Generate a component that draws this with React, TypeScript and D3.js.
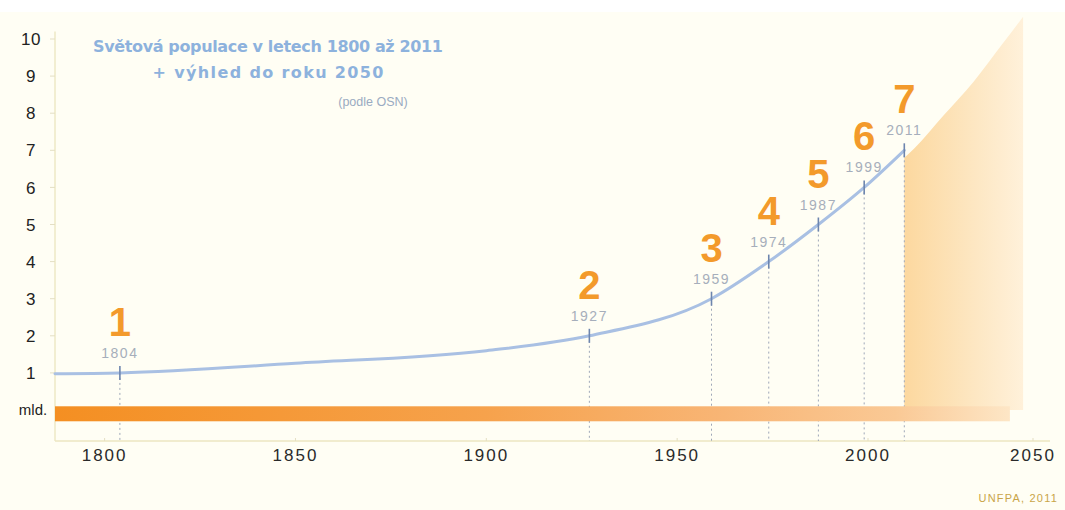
import { useMemo } from "react";
import * as d3 from "d3";

const width = 1065;
const height = 510;
const margin = { top: 12, left: 55, right: 15, axis: 441 };

// world population (billions)
const populationYears = [1787, 1804, 1850, 1900, 1927, 1959, 1974, 1987, 1999, 2011];
const populationValues = [0.98, 1, 1.26, 1.6, 2, 3, 4, 5, 6, 7];

// each new billion
const milestoneYears = [1804, 1927, 1959, 1974, 1987, 1999, 2011];
const milestoneValues = [1, 2, 3, 4, 5, 6, 7];

// outlook to 2050 (upper edge of shaded band)
const projectionYears = [2011, 2014, 2023, 2032, 2041, 2047];
const projectionHigh = [6.8, 7.05, 7.95, 8.85, 9.9, 10.6];

const xTicks = [1800, 1850, 1900, 1950, 2000, 2050];
const yTicks = [1, 2, 3, 4, 5, 6, 7, 8, 9, 10];

const orange = "#f39a2b";
const sans = "'Liberation Sans', Arial, sans-serif";

const App = () => {
  const { xScale, yScale, linePath, shadePath } = useMemo(() => {
    const xScale = d3
      .scaleLinear()
      .domain([1787, 2000, 2050])
      .range([margin.left, 868, 1033]);
    const yScale = d3.scaleLinear().domain([0, 10]).range([410, 39]);

    const pts = populationYears.map((yr, i) => [yr, populationValues[i]] as [number, number]);
    const linePath = d3
      .line<[number, number]>()
      .x((d) => xScale(d[0]))
      .y((d) => yScale(d[1]))
      .curve(d3.curveMonotoneX)(pts);

    const proj = projectionYears.map((yr, i) => [yr, projectionHigh[i]] as [number, number]);
    const shadePath = d3
      .area<[number, number]>()
      .x((d) => xScale(d[0]))
      .y0(yScale(0))
      .y1((d) => yScale(d[1]))
      .curve(d3.curveMonotoneX)(proj);

    return { xScale, yScale, linePath, shadePath };
  }, []);

  const barStart = xScale(1787);
  const barEnd = xScale(2043);
  const shadeStart = xScale(2011);
  const shadeEnd = xScale(2047);

  return (
    <svg
      width={width}
      height={height}
      style={{ position: "absolute", left: 0, top: 0, background: "#fffef4" }}
    >
      <defs>
        <linearGradient id="barGrad" gradientUnits="userSpaceOnUse" x1={barStart} x2={barEnd} y1={0} y2={0}>
          <stop offset="0" stopColor="#f48f22" />
          <stop offset="0.45" stopColor="#f6a24c" />
          <stop offset="0.7" stopColor="#f8b575" />
          <stop offset="0.88" stopColor="#fac995" />
          <stop offset="1" stopColor="#fde6c6" />
        </linearGradient>
        <linearGradient id="shadeGrad" gradientUnits="userSpaceOnUse" x1={shadeStart} x2={shadeEnd} y1={0} y2={0}>
          <stop offset="0" stopColor="#fcd89f" />
          <stop offset="0.6" stopColor="#fde7c3" />
          <stop offset="1" stopColor="#fff1da" />
        </linearGradient>
      </defs>

      <rect x={0} y={0} width={width} height={margin.top} fill="#ffffff" />

      {/* projection band */}
      <path d={shadePath ?? ""} fill="url(#shadeGrad)" />

      {/* axes */}
      <line x1={margin.left} x2={margin.left} y1={yScale(10.2)} y2={margin.axis} stroke="#eee9c6" strokeWidth={1.5} />
      <line x1={margin.left} x2={width - margin.right} y1={margin.axis} y2={margin.axis} stroke="#ece6c2" strokeWidth={1.5} />

      {yTicks.map((t) => (
        <g key={t}>
          <line x1={margin.left - 5} x2={margin.left} y1={yScale(t)} y2={yScale(t)} stroke="#e4dfc4" />
          <text
            x={31}
            y={yScale(t)}
            dy="0.36em"
            textAnchor="middle"
            fontFamily={sans}
            fontSize={17}
            letterSpacing={0.5}
            fill="#222"
          >
            {t}
          </text>
        </g>
      ))}
      <text x={33} y={yScale(0)} dy="0.36em" textAnchor="middle" fontFamily={sans} fontSize={15} fill="#222">
        mld.
      </text>

      {xTicks.map((t) => (
        <g key={t}>
          <line x1={xScale(t)} x2={xScale(t)} y1={margin.axis - 3} y2={margin.axis} stroke="#e4dfc4" />
          <text
            x={xScale(t)}
            y={margin.axis + 20}
            textAnchor="middle"
            fontFamily={sans}
            fontSize={17}
            letterSpacing={2}
            fill="#2a2a2a"
          >
            {t}
          </text>
        </g>
      ))}

      {/* milestone drop lines */}
      {milestoneYears.map((yr, i) => (
        <line
          key={yr}
          x1={xScale(yr)}
          x2={xScale(yr)}
          y1={yScale(milestoneValues[i])}
          y2={margin.axis}
          stroke="#9ea7b8"
          strokeWidth={1}
          strokeDasharray="2,3"
        />
      ))}

      {/* billions bar */}
      <rect x={barStart} y={yScale(0.1)} width={barEnd - barStart} height={15} fill="url(#barGrad)" />

      {/* population curve */}
      <path d={linePath ?? ""} fill="none" stroke="#a9c0e3" strokeWidth={3} strokeLinecap="round" />

      {milestoneYears.map((yr, i) => {
        const x = xScale(yr);
        const y = yScale(milestoneValues[i]);
        return (
          <g key={yr}>
            <line x1={x} x2={x} y1={y - 7} y2={y + 7} stroke="#6d85ae" strokeWidth={1.6} />
            <text
              x={x}
              y={y - 15}
              textAnchor="middle"
              fontFamily={sans}
              fontSize={14}
              letterSpacing={1.5}
              fill="#a6aebb"
            >
              {yr}
            </text>
            <text
              x={x}
              y={y - 37}
              textAnchor="middle"
              fontFamily={sans}
              fontWeight="bold"
              fontSize={40}
              fill={orange}
            >
              {milestoneValues[i]}
            </text>
          </g>
        );
      })}

      {/* title */}
      <text
        x={268}
        y={52}
        textAnchor="middle"
        fontFamily="'DejaVu Sans', Verdana, sans-serif"
        fontWeight="bold"
        fontSize={16}
        textLength={350}
        lengthAdjust="spacing"
        fill="#8db2dd"
      >
        Světová populace v letech 1800 až 2011
      </text>
      <text
        x={268}
        y={78}
        textAnchor="middle"
        fontFamily="'DejaVu Sans', Verdana, sans-serif"
        fontWeight="bold"
        fontSize={16}
        textLength={231}
        lengthAdjust="spacing"
        fill="#8db2dd"
      >
        + výhled do roku 2050
      </text>
      <text x={373} y={106} textAnchor="middle" fontFamily={sans} fontSize={12.5} fill="#9aabc2">
        (podle OSN)
      </text>

      <text
        x={1058}
        y={502}
        textAnchor="end"
        fontFamily={sans}
        fontSize={11}
        letterSpacing={1.2}
        fill="#c9a548"
      >
        UNFPA, 2011
      </text>
    </svg>
  );
};

export default App;
